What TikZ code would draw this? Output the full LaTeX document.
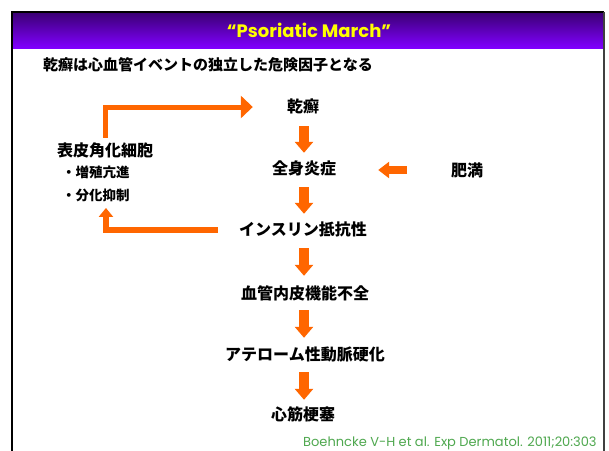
\documentclass[tikz,border=0pt]{standalone}
\usepackage{fontspec}
\setmainfont{Poppins}
\newfontfamily\jp{Noto Sans CJK JP}
\usetikzlibrary{arrows.meta}
\definecolor{arr}{HTML}{FF6600}
\definecolor{barTop}{HTML}{3A0072}
\definecolor{barBot}{HTML}{8000FF}
\definecolor{cite}{HTML}{4FA84F}
\definecolor{ttl}{HTML}{FFFF00}
\begin{document}
\begin{tikzpicture}[x=1pt,y=-1pt,
  jpnode/.style={font=\jp\bfseries\fontsize{16}{16}\selectfont, inner sep=0pt, text height=14pt, text depth=2pt},
  bul/.style={font=\jp\bfseries\fontsize{13.5}{13.5}\selectfont, inner sep=0pt, text height=12pt, text depth=1.5pt, anchor=west},
  vbar/.style={arr, line width=10pt, -{Triangle[width=18pt,length=11pt]}},
  hbar/.style={arr, line width=8pt, -{Triangle[width=16pt,length=11pt]}},
  ubar/.style={arr, line width=5pt, -{Triangle[width=22pt,length=12pt]}},
  lbar/.style={arr, line width=6pt, -{Triangle[width=14pt,length=9pt]}}]
\useasboundingbox (0,0) rectangle (609,450);
\clip (0,0) rectangle (609,450);
\fill[white] (0,0) rectangle (609,450);
% frame and title bar
\shade[top color=barTop, bottom color=barBot] (12,12) rectangle (604,48);
\draw[black, line width=1.2pt] (12,470) -- (12,12) -- (604,12);
\draw[black!75, line width=2pt] (604,12) -- (604,470);
\node[font=\bfseries\fontsize{18}{18}\selectfont, text=ttl, inner sep=0pt] (title) at (309,30) {“Psoriatic March”};
\node[font=\jp\bfseries\fontsize{15}{15}\selectfont, inner sep=0pt, anchor=west] (sub) at (43,65) {乾癬は心血管イベントの独立した危険因子となる};
% chain
\node[jpnode] (kansen) at (303,106) {乾癬};
\node[jpnode] (zenshin) at (304,168) {全身炎症};
\node[jpnode] (himan) at (467,170) {肥満};
\node[jpnode] (insulin) at (303,229) {インスリン抵抗性};
\node[jpnode] (kekkan) at (305,293) {血管内皮機能不全};
\node[jpnode] (athero) at (305,354) {アテローム性動脈硬化};
\node[jpnode] (shinkin) at (303,414) {心筋梗塞};
\node[jpnode, anchor=west] (hyoshi) at (57,150) {表皮角化細胞};
\node[bul] (b1) at (62,172) {・増殖亢進};
\node[bul] (b2) at (62,195) {・分化抑制};
% citation
\node[font=\fontsize{13}{13}\selectfont, text=cite, inner sep=0pt, anchor=base west] (cit) at (303,446) {Boehncke V-H et al. Exp Dermatol. 2011;20:303};
% arrows
\draw[vbar, shorten <=12pt, shorten >=7pt] (kansen.south -| 304,0) -- (zenshin.north -| 304,0);
\draw[vbar, shorten <=11pt, shorten >=7pt] (zenshin.south -| 304,0) -- (insulin.north -| 304,0);
\draw[vbar, shorten <=11pt, shorten >=9pt] (insulin.south -| 304,0) -- (kekkan.north -| 304,0);
\draw[vbar, shorten <=9pt, shorten >=8pt] (kekkan.south -| 304,0) -- (athero.north -| 304,0);
\draw[vbar, shorten <=10pt, shorten >=6pt] (athero.south -| 304,0) -- (shinkin.north -| 304,0);
\draw[hbar, shorten <=44pt, shorten >=42pt] (himan.west) -- (zenshin.east |- himan.west);
\draw[ubar, shorten <=4pt, shorten >=34pt] ([xshift=10pt]hyoshi.north -| b1.center) |- ([yshift=-1pt]kansen.west);
\draw[lbar, shorten <=21pt, shorten >=6pt] ([yshift=-1pt]insulin.west) -| ([xshift=10pt]b2.south);
\end{tikzpicture}
\end{document}
